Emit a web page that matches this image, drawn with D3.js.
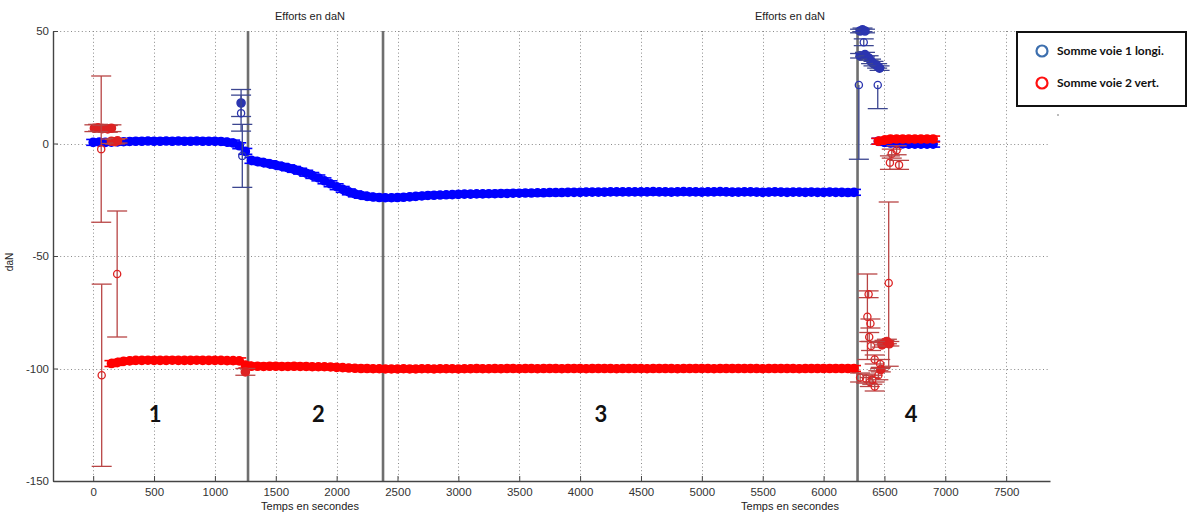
<!DOCTYPE html>
<html><head><meta charset="utf-8">
<script src="https://cdn.jsdelivr.net/npm/d3@7"></script>
<style>
body{margin:0;background:#fff;}
svg{display:block;}
</style></head>
<body>
<svg id="chart" width="1188" height="512"></svg>
<script>
// ---------------- DATA ----------------
const xTicks = [0,500,1000,1500,2000,2500,3000,3500,4000,4500,5000,5500,6000,6500,7000,7500];
const yTicks = [50,0,-50,-100,-150];
const seriesNames = ["Somme voie 1 longi.", "Somme voie 2 vert."];
const titleText = "Efforts en daN";
const xLabelText = "Temps en secondes";
const yLabelText = "daN";
const phaseLabels = ["1","2","3","4"];
const phaseLabelT = [509, 1850, 4170, 6720];
const phaseLabelV = [-120, -120, -120, -120];
const separatorT = [1272, 2381, 6279];

// dense band, series 1 (blue), sampled every 50 s from t = 0
const blueBandStart = 0, bandStep = 50;
const blueBandV = [
 0.5,0.6,0.5,0.6,0.7,0.8,0.9,1.0,1.0,1.1,1.0,1.0,1.1,1.0,1.1,1.0,1.0,1.1,1.0,1.0,1.0,0.9,0.6,0.2,-1.0,-3.5,
 -7.5,-8.0,-8.5,-9.0,-9.6,-10.2,-10.8,-11.5,-12.3,-13.2,-14.2,-15.3,-16.6,-17.9,-19.2,-20.4,-21.5,-22.4,-23.0,-23.5,-23.8,-24.0,-24.1,-24.1,-24.0,-23.9,-23.7,-23.5,-23.3,-23.1,-23.0,-22.9,-22.8,-22.7,-22.6,
 -22.5,-22.5,-22.4,-22.4,-22.3,-22.3,-22.2,-22.2,-22.1,-22.1,
 -22.0,-22.0,-21.9,-21.9,-21.8,-21.8,-21.8,-21.7,-21.7,-21.7,-21.6,-21.6,-21.6,-21.6,-21.5,-21.5,-21.5,-21.5,-21.5,-21.5,
 -21.5,-21.4,-21.5,-21.5,-21.6,-21.5,-21.4,-21.5,-21.5,-21.6,-21.5,-21.5,-21.4,-21.5,-21.6,-21.6,-21.5,-21.5,-21.6,-21.7,-21.6,-21.5,-21.6,-21.7,-21.6,-21.6,-21.7,-21.6,-21.7,-21.7,-21.6,-21.7,-21.7,-21.8,-21.7
];
// dense band, series 2 (red), sampled every 50 s from t = 150
const redBandStart = 150;
const redBandV = [
 -97.8,-97.3,-96.8,-96.6,
 -96.4,-96.4,-96.3,-96.4,-96.4,-96.4,-96.3,-96.4,-96.4,-96.4,-96.3,-96.4,-96.4,-96.4,-96.4,-96.5,-96.5,-96.6,
 -98.5,
 -99.0,-99.0,-99.1,-99.0,-99.0,-99.1,-99.1,-99.0,-99.1,-99.1,-99.2,-99.2,-99.2,
 -99.3,-99.5,-99.6,-99.8,-99.9,-100.0,-100.0,-100.1,-100.1,-100.2,
 -100.2,-100.2,-100.1,-100.2,-100.2,-100.1,-100.1,-100.2,-100.1,-100.1,-100.1,-100.2,-100.1,-100.1,-100.0,-100.1,-100.1,-100.0,-100.1,-100.0,
 -100.0,-100.1,-100.0,-100.0,-100.1,-100.0,-100.0,-100.0,-100.1,-100.0,-100.0,-100.0,-100.1,-100.0,-100.0,-100.0,-100.0,-100.1,-100.0,-100.0,
 -100.0,-100.0,-100.1,-100.0,-100.0,-100.0,-100.0,-100.1,-100.0,-100.0,-100.0,-100.0,-100.0,-100.1,-100.0,-100.0,-100.0,-100.0,-100.0,-100.0,
 -100.0,-100.1,-100.0,-100.0,-100.0,-100.0,-100.0,-100.1,-100.0,-100.0,-100.0,-100.0,-100.0,-100.0,-100.0,-100.0,-100.0
];
// late dense segments (phase 4), every 50 s from t = 6450
const lateStart = 6450;
const blueLateV = [1.0,0.5,0.2,0.0,-0.2,-0.3,-0.3,-0.3,-0.3,-0.3];
const redLateV  = [1.0,1.5,2.0,2.0,2.0,2.0,2.0,2.0,2.0,2.0];
const bandErrY = 1.3;   // daN
const bandErrX = 35;    // s

// isolated points: time, value, lower error, upper error
const blueIsoT  = [1215,1215,1225, 6320,6300,6340,6330,6300,6340,6370,6390,6410,6440,6460,6290,6445];
const blueIsoV  = [18,13.5,-5.5, 50.5,50,50,45,39,39.5,38,36.5,35.5,34.5,33.5,26,26];
const blueIsoLo = [6,8,14, 0.8,0.8,0.8,1.5,1,1,1,1,1,1,1,33,10.5];
const blueIsoHi = [6,8,14, 0.8,0.8,0.8,1.5,1,1,1,1,1,1,1,0,0];

const redIsoT  = [10,40,75,120,150, 66,70,197, 150,180,200, 1250,
                  6535,6360,6370,6385,6375,6390,6420,6480,6500,6520,6540,6300,6350,6380,6420,6400,6450,6470,6465,6560,6545,6620,6600];
const redIsoV  = [6.8,7.0,6.6,6.5,6.8, -2.5,-103,-58, 1.0,0.8,1.2, -101.5,
                  -62,-77,-67,-80,-86,-90,-96,-89.5,-88.5,-88,-89,-104,-104.5,-106,-108,-105,-103,-100.5,-98,-4.5,-8.5,-9.5,-3];
const redIsoLo = [1.5,1.5,1.5,1.5,1.5, 32.5,40.5,28, 1,1,1, 1.5,
                  37,19,1.5,2,2,2,2,1,1,1,1,2,2,2,2,2,2,1,2,2,3,2,2];
const redIsoHi = [1.5,1.5,1.5,1.5,1.5, 32.5,40.5,28, 1,1,1, 1.5,
                  36,19,1.5,2,2,2,2,1,1,1,1,2,2,2,2,2,2,1,2,2,3,2,2];
// which isolated points are part of solid clusters (drawn filled)
const blueIsoFilled = [1,0,0, 1,1,1,0,1,1,1,1,1,1,1,0,0];
const redIsoFilled  = [1,1,1,1,1, 0,0,0, 1,1,1, 1,
                       0,0,0,0,0,0,0,1,1,1,1,0,0,0,0,0,0,1,0,0,0,0,0];

// ---------------- CHART ----------------
const svg = d3.select("#chart");
const L = 53, R = 1050, T = 31, B = 481;
const x = d3.scaleLinear().domain([-330, 7860]).range([L, R]);
const y = d3.scaleLinear().domain([-150, 50]).range([B, T]);
const font = "'Liberation Sans', Arial, sans-serif";

// grid
const grid = svg.append("g").attr("stroke", "#8a8a8a").attr("stroke-width", 1).attr("stroke-dasharray", "1,2.6");
grid.selectAll("line.v").data(xTicks).join("line")
  .attr("x1", d => Math.round(x(d)) + 0.5).attr("x2", d => Math.round(x(d)) + 0.5)
  .attr("y1", T).attr("y2", B);
grid.selectAll("line.h").data(yTicks.filter(d => d > -150)).join("line")
  .attr("x1", L).attr("x2", R)
  .attr("y1", d => Math.round(y(d)) + 0.5).attr("y2", d => Math.round(y(d)) + 0.5);

// separators
svg.append("g").selectAll("line").data(separatorT).join("line")
  .attr("x1", d => x(d)).attr("x2", d => x(d)).attr("y1", T).attr("y2", B)
  .attr("stroke", "#6f6f6f").attr("stroke-width", 2.6);

// helpers
function bandPoints(start, vals) { return vals.map((v, i) => ({t: start + i * bandStep, v, lo: bandErrY, hi: bandErrY, xe: bandErrX, filled: true})); }
function isoPoints(T_, V, Lo, Hi, F) { return T_.map((t, i) => ({t, v: V[i], lo: Lo[i], hi: Hi[i], xe: F[i] ? 30 : 0, filled: !!F[i]})); }

function drawSeries(pts, color, barColor, capW, r, sw, bw) {
  const g = svg.append("g");
  pts.forEach(p => {
    const cx = x(p.t), cy = y(p.v);
    const y1 = y(p.v + p.hi), y2 = y(p.v - p.lo);
    g.append("line").attr("x1", cx).attr("x2", cx).attr("y1", y1).attr("y2", y2).attr("stroke", barColor).attr("stroke-width", bw);
    if (p.hi > 0) g.append("line").attr("x1", cx - capW/2).attr("x2", cx + capW/2).attr("y1", y1).attr("y2", y1).attr("stroke", barColor).attr("stroke-width", bw);
    if (p.lo > 0) g.append("line").attr("x1", cx - capW/2).attr("x2", cx + capW/2).attr("y1", y2).attr("y2", y2).attr("stroke", barColor).attr("stroke-width", bw);
    if (p.xe > 0) g.append("line").attr("x1", x(p.t - p.xe)).attr("x2", x(p.t + p.xe)).attr("y1", cy).attr("y2", cy).attr("stroke", barColor).attr("stroke-width", bw);
    g.append("circle").attr("cx", cx).attr("cy", cy).attr("r", p.filled ? 4 : r)
      .attr("fill", p.filled ? color : "none").attr("stroke", color).attr("stroke-width", p.filled ? 1.6 : sw);
  });
}

drawSeries(bandPoints(blueBandStart, blueBandV), "#0000ff", "#0000ff", 14, 3.4, 2.4, 1.6);
drawSeries(bandPoints(lateStart, blueLateV), "#0000ff", "#0000ff", 14, 3.4, 2.4, 1.6);
drawSeries(isoPoints(blueIsoT, blueIsoV, blueIsoLo, blueIsoHi, blueIsoFilled), "#2b35b0", "#3c4690", 20, 3.6, 1.3, 1.3);
drawSeries(bandPoints(redBandStart, redBandV), "#ff0000", "#ff0000", 14, 3.4, 2.4, 1.6);
drawSeries(bandPoints(lateStart, redLateV), "#ff0000", "#ff0000", 14, 3.4, 2.4, 1.6);
drawSeries(isoPoints(redIsoT, redIsoV, redIsoLo, redIsoHi, redIsoFilled), "#dd2222", "#b84444", 20, 3.6, 1.3, 1.3);

// axes
const fmt = d => String(d);
const xAxis = svg.append("g").attr("transform", `translate(0,${B})`)
  .call(d3.axisBottom(x).tickValues(xTicks).tickFormat(fmt).tickSizeInner(-5).tickSizeOuter(0).tickPadding(7));
const yAxis = svg.append("g").attr("transform", `translate(${L},0)`)
  .call(d3.axisLeft(y).tickValues(yTicks).tickFormat(fmt).tickSizeInner(-5).tickSizeOuter(0).tickPadding(4));
[xAxis, yAxis].forEach(a => {
  a.select(".domain").attr("stroke", "#444").attr("stroke-width", 1.4);
  a.selectAll(".tick line").attr("stroke", "#444");
  a.selectAll("text").attr("font-family", font).attr("font-size", 11.5).attr("fill", "#333");
});

// titles and labels (two panels)
[310, 790].forEach(cx => {
  svg.append("text").attr("x", cx).attr("y", 20).attr("text-anchor", "middle")
    .attr("font-family", font).attr("font-size", 11).attr("fill", "#222").text(titleText);
  svg.append("text").attr("x", cx).attr("y", 510).attr("text-anchor", "middle")
    .attr("font-family", font).attr("font-size", 11).attr("fill", "#222").text(xLabelText);
});
svg.append("text").attr("transform", "translate(13,262) rotate(-90)").attr("text-anchor", "middle")
  .attr("font-family", font).attr("font-size", 10).attr("fill", "#222").text(yLabelText);

// phase labels
svg.append("g").selectAll("text").data(phaseLabels).join("text")
  .attr("x", (d, i) => x(phaseLabelT[i])).attr("y", (d, i) => y(phaseLabelV[i]) + 8)
  .attr("text-anchor", "middle").attr("font-family", "Lato, 'Open Sans', sans-serif")
  .attr("font-weight", "bold").attr("font-size", 22).attr("fill", "#111").text(d => d);

// legend
const lg = svg.append("g");
lg.append("rect").attr("x", 1017).attr("y", 32).attr("width", 169).attr("height", 74)
  .attr("fill", "#fff").attr("stroke", "#111").attr("stroke-width", 2);
const legColors = ["#3d6fae", "#ff1010"];
seriesNames.forEach((n, i) => {
  lg.append("circle").attr("cx", 1042).attr("cy", 51 + i * 32).attr("r", 5.5)
    .attr("fill", "none").attr("stroke", legColors[i]).attr("stroke-width", 2.2);
  lg.append("text").attr("x", 1057).attr("y", 55 + i * 32)
    .attr("font-family", "Lato, 'Open Sans', sans-serif").attr("font-weight", "bold").attr("font-size", 12)
    .attr("fill", "#111").text(n);
});
lg.append("circle").attr("cx", 1058).attr("cy", 115).attr("r", 0.8).attr("fill", "#666");
</script>
</body></html>
